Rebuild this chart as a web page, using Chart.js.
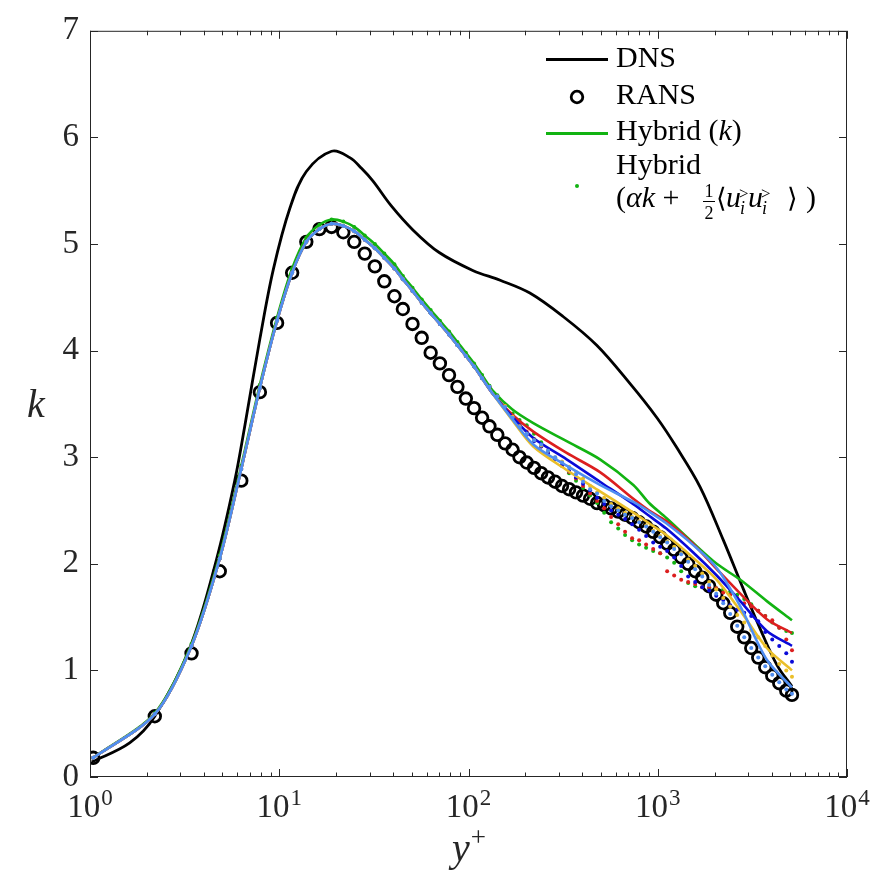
<!DOCTYPE html>
<html><head><meta charset="utf-8">
<script src="https://cdn.jsdelivr.net/npm/chart.js"></script>
<style>
html,body{margin:0;padding:0;background:#fff;}
#wrap{position:relative;width:889px;height:875px;background:#fff;}
#c{position:absolute;left:0;top:0;}
#leg{position:absolute;left:0;top:0;}
</style></head><body>
<div id="wrap">
<canvas id="c" width="889" height="875"></canvas>
<svg id="leg" width="889" height="875" xmlns="http://www.w3.org/2000/svg" font-family="Liberation Serif, DejaVu Serif, DejaVu Sans, serif" font-size="30" fill="#000">
<line x1="546" y1="59.5" x2="608" y2="59.5" stroke="#000" stroke-width="2.8"/>
<text x="616" y="67">DNS</text>
<circle cx="577" cy="97" r="5.8" fill="none" stroke="#000" stroke-width="2.8"/>
<text x="616" y="104">RANS</text>
<line x1="546" y1="133.5" x2="608" y2="133.5" stroke="#12b312" stroke-width="2.8"/>
<text x="616" y="140">Hybrid (<tspan font-style="italic">k</tspan>)</text>
<text x="616" y="173.5">Hybrid</text>
<circle cx="577" cy="186" r="2" fill="#12b312"/>
<text x="616" y="207">(<tspan font-style="italic">αk</tspan> +</text>
<text x="709" y="197" font-size="18" text-anchor="middle">1</text>
<line x1="703" y1="201.5" x2="715" y2="201.5" stroke="#000" stroke-width="1"/>
<text x="709" y="219" font-size="18" text-anchor="middle">2</text>
<text x="716" y="207" font-family="DejaVu Serif, DejaVu Sans, serif" font-size="27">⟨</text>
<text x="726" y="207" font-style="italic">u</text>
<text x="739" y="199" font-size="17">&gt;</text>
<text x="740" y="214" font-size="18" font-style="italic">i</text>
<text x="748" y="207" font-style="italic">u</text>
<text x="761" y="199" font-size="17">&gt;</text>
<text x="762" y="214" font-size="18" font-style="italic">i</text>
<text x="787" y="207" font-family="DejaVu Serif, DejaVu Sans, serif" font-size="27">⟩</text>
<text x="806" y="207">)</text>
</svg>
</div>
<script>
// ---------- data ----------
const yTickVals = [0, 1, 2, 3, 4, 5, 6, 7];
const xTickExps = [0, 1, 2, 3, 4];

const dnsYp = [1.02, 1.62, 2.2, 3.37, 4.66, 5.82, 6.6, 7.9, 9.3, 11.4, 13.9, 18.9, 23.6, 27.2, 31.3, 39, 51, 70, 106, 147, 211, 316, 476, 714, 990, 1260, 1675, 2224, 2838, 3478, 4266, 5117];
const dnsK  = [0.14, 0.32, 0.57, 1.21, 2.04, 2.78, 3.31, 4.11, 4.76, 5.34, 5.68, 5.87, 5.81, 5.71, 5.59, 5.36, 5.13, 4.92, 4.75, 4.66, 4.54, 4.32, 4.05, 3.69, 3.37, 3.09, 2.72, 2.22, 1.76, 1.39, 1.05, 0.85];

const nearGrid = [1.04, 2.2, 3.44, 4.85, 6.3, 7.9, 9.74, 11.7, 13.9, 16.3, 18.9, 21.8, 24.9, 28.3, 32, 35.9, 40.6, 45, 50.6, 56.6, 63.1, 70.6, 78.9, 87.4, 96.8, 107, 118];
const outerGrid = [129, 142, 156, 171, 186, 203, 222, 242, 263, 287, 312, 340, 370, 403, 439, 478, 521, 567, 618, 672, 732, 797, 868, 946, 1030, 1121, 1221, 1330, 1448, 1577, 1718, 1870, 2037, 2218, 2415, 2630, 2864, 3119, 3396, 3698, 4027, 4386, 4776, 5120];

const ransNearK  = [0.18, 0.57, 1.16, 1.93, 2.78, 3.61, 4.26, 4.73, 5.02, 5.14, 5.16, 5.11, 5.02, 4.91, 4.79, 4.65, 4.51, 4.39, 4.25, 4.12, 3.98, 3.88, 3.77, 3.66, 3.55, 3.46, 3.37];
const ransOuterK = [3.29, 3.21, 3.13, 3.07, 3.00, 2.95, 2.90, 2.85, 2.81, 2.77, 2.73, 2.70, 2.67, 2.64, 2.61, 2.57, 2.55, 2.52, 2.49, 2.46, 2.43, 2.39, 2.35, 2.30, 2.25, 2.19, 2.13, 2.06, 2.00, 1.93, 1.87, 1.79, 1.71, 1.63, 1.54, 1.41, 1.31, 1.21, 1.12, 1.03, 0.95, 0.88, 0.81, 0.77];

const hybNearK   = [0.18, 0.59, 1.23, 2.05, 2.89, 3.65, 4.28, 4.73, 5.02, 5.14, 5.19, 5.17, 5.12, 5.04, 4.96, 4.87, 4.77, 4.67, 4.56, 4.45, 4.35, 4.25, 4.15, 4.05, 3.95, 3.85, 3.74];
const greenNearK = [0.18, 0.60, 1.25, 2.08, 2.92, 3.68, 4.31, 4.77, 5.06, 5.18, 5.23, 5.21, 5.16, 5.08, 5.00, 4.91, 4.81, 4.70, 4.59, 4.48, 4.38, 4.28, 4.18, 4.08, 3.98, 3.88, 3.77];

const lineOuterX  = [135, 170, 220, 330, 495, 743, 900, 1110, 1530, 2050, 2730, 3770, 5120];
const greenLineK  = [3.62, 3.45, 3.32, 3.15, 2.98, 2.74, 2.57, 2.43, 2.20, 2.00, 1.85, 1.65, 1.47];
const redLineK    = [3.59, 3.40, 3.24, 3.04, 2.86, 2.61, 2.50, 2.40, 2.19, 1.95, 1.72, 1.48, 1.35];
const blueLineK   = [3.59, 3.38, 3.18, 2.98, 2.77, 2.56, 2.45, 2.33, 2.11, 1.89, 1.65, 1.37, 1.23];
const yellowLineK = [3.59, 3.35, 3.10, 2.88, 2.68, 2.48, 2.38, 2.27, 2.06, 1.85, 1.56, 1.21, 1.00];
const lblueLineK  = [3.59, 3.36, 3.12, 2.92, 2.74, 2.58, 2.49, 2.38, 2.18, 1.96, 1.60, 1.10, 0.84];

const greenDotK  = [3.67, 3.58, 3.49, 3.41, 3.35, 3.30, 3.22, 3.14, 3.06, 2.99, 2.92, 2.85, 2.78, 2.71, 2.64, 2.57, 2.48, 2.39, 2.33, 2.27, 2.22, 2.18, 2.15, 2.12, 2.10, 2.06, 2.01, 1.93, 1.82, 1.79, 1.78, 1.77, 1.77, 1.76, 1.74, 1.71, 1.67, 1.62, 1.56, 1.51, 1.45, 1.40, 1.37, 1.35];
const redDotK    = [3.66, 3.57, 3.48, 3.39, 3.31, 3.24, 3.17, 3.10, 3.04, 2.98, 2.92, 2.86, 2.80, 2.73, 2.66, 2.59, 2.52, 2.44, 2.37, 2.30, 2.24, 2.22, 2.18, 2.14, 2.10, 1.93, 1.89, 1.85, 1.83, 1.81, 1.78, 1.78, 1.77, 1.73, 1.71, 1.68, 1.63, 1.60, 1.56, 1.51, 1.47, 1.40, 1.29, 1.19];
const blueDotK   = [3.66, 3.57, 3.47, 3.37, 3.28, 3.21, 3.15, 3.10, 3.04, 2.98, 2.93, 2.87, 2.81, 2.75, 2.69, 2.62, 2.56, 2.50, 2.46, 2.42, 2.37, 2.32, 2.26, 2.20, 2.16, 2.12, 2.06, 1.98, 1.88, 1.83, 1.78, 1.75, 1.70, 1.66, 1.61, 1.57, 1.54, 1.51, 1.46, 1.36, 1.29, 1.23, 1.16, 1.08];
const yellowDotK = [3.66, 3.57, 3.48, 3.38, 3.29, 3.22, 3.16, 3.11, 3.06, 3.00, 2.96, 2.91, 2.86, 2.80, 2.73, 2.67, 2.62, 2.56, 2.52, 2.48, 2.44, 2.40, 2.36, 2.31, 2.26, 2.21, 2.16, 2.10, 2.04, 1.98, 1.91, 1.83, 1.76, 1.68, 1.60, 1.52, 1.45, 1.38, 1.31, 1.23, 1.14, 1.06, 1.00, 0.94];
const lblueDotK  = [3.66, 3.57, 3.47, 3.37, 3.28, 3.22, 3.16, 3.12, 3.06, 3.00, 2.95, 2.90, 2.84, 2.77, 2.70, 2.66, 2.59, 2.54, 2.50, 2.46, 2.43, 2.39, 2.35, 2.30, 2.25, 2.20, 2.14, 2.09, 2.02, 1.95, 1.88, 1.80, 1.72, 1.63, 1.53, 1.42, 1.31, 1.21, 1.12, 1.04, 0.96, 0.89, 0.82, 0.78];

// ---------- build datasets ----------
const pts = (xs, ys) => xs.map((x, i) => ({x: x, y: ys[i]}));
const AX = '#262626';
const FONT = 'Liberation Serif';

const cases = [
  {c: '#12b312', near: greenNearK, line: greenLineK,  dots: greenDotK},
  {c: '#dc1f1f', near: hybNearK,   line: redLineK,    dots: redDotK},
  {c: '#0a0ad8', near: hybNearK,   line: blueLineK,   dots: blueDotK},
  {c: '#eabf2a', near: hybNearK,   line: yellowLineK, dots: yellowDotK},
  {c: '#4f8ef2', near: hybNearK,   line: lblueLineK,  dots: lblueDotK}
];

const datasets = [];
datasets.push({label: 'DNS', data: pts(dnsYp, dnsK), showLine: true, borderColor: '#000', borderWidth: 2.8,
  pointRadius: 0, tension: 0.35, fill: false});
datasets.push({label: 'RANS', data: pts(nearGrid.concat(outerGrid), ransNearK.concat(ransOuterK)), showLine: false,
  pointRadius: 5.8, pointBorderWidth: 2.8, pointBorderColor: '#000', pointBackgroundColor: 'rgba(0,0,0,0)', borderColor: '#000'});
cases.forEach(cs => {
  datasets.push({label: 'Hybrid (k)', data: pts(nearGrid.concat(lineOuterX), cs.near.concat(cs.line)), showLine: true,
    borderColor: cs.c, borderWidth: 2.6, pointRadius: 0, tension: 0.3, fill: false});
  datasets.push({label: 'Hybrid dots', data: pts(nearGrid.concat(outerGrid), cs.near.concat(cs.dots)), showLine: false,
    pointRadius: 2, pointBorderWidth: 0, pointBackgroundColor: cs.c, borderColor: cs.c});
});
// later datasets drawn on top
datasets.forEach((d, i) => { d.order = 100 - i; });

const framePlugin = {
  id: 'frame',
  afterDatasetsDraw(chart) {
    const ctx = chart.ctx;
    const {left, right, top, bottom} = chart.chartArea;
    const xs = chart.scales.x, ys = chart.scales.y;
    ctx.save();
    ctx.strokeStyle = AX;
    ctx.lineWidth = 1;
    ctx.strokeRect(left + 0.5, top + 0.5, right - left - 1, bottom - top - 1);
    ctx.beginPath();
    yTickVals.forEach(v => {
      const py = Math.round(ys.getPixelForValue(v)) + 0.5;
      ctx.moveTo(left, py); ctx.lineTo(left + 8, py);
      ctx.moveTo(right, py); ctx.lineTo(right - 8, py);
    });
    for (let d = xTickExps[0]; d <= xTickExps[xTickExps.length - 1]; d++) {
      for (let m = 1; m <= 9; m++) {
        if (d === xTickExps[xTickExps.length - 1] && m > 1) break;
        const px = Math.round(xs.getPixelForValue(m * Math.pow(10, d))) + 0.5;
        const len = m === 1 ? 8 : 4.5;
        ctx.moveTo(px, bottom); ctx.lineTo(px, bottom - len);
        ctx.moveTo(px, top); ctx.lineTo(px, top + len);
      }
    }
    ctx.stroke();
    // x tick labels 10^n
    ctx.fillStyle = AX;
    ctx.textBaseline = 'alphabetic';
    ctx.textAlign = 'left';
    xTickExps.forEach(e => {
      const px = xs.getPixelForValue(Math.pow(10, e));
      ctx.font = '33px "' + FONT + '"';
      const wb = ctx.measureText('10').width;
      ctx.font = '23px "' + FONT + '"';
      const we = ctx.measureText(String(e)).width;
      const x0 = px - (wb + we + 1) / 2;
      ctx.font = '33px "' + FONT + '"';
      ctx.fillText('10', x0, bottom + 40);
      ctx.font = '23px "' + FONT + '"';
      ctx.fillText(String(e), x0 + wb + 1, bottom + 28);
    });
    // axis titles
    const cx = (left + right) / 2;
    ctx.font = 'italic 40px "' + FONT + '"';
    const wy = ctx.measureText('y').width;
    ctx.font = '27px "' + FONT + '"';
    const wp = ctx.measureText('+').width;
    const sx = cx - (wy + wp) / 2;
    ctx.font = 'italic 40px "' + FONT + '"';
    ctx.fillText('y', sx, bottom + 84);
    ctx.font = '27px "' + FONT + '"';
    ctx.fillText('+', sx + wy + 1, bottom + 69);
    ctx.font = 'italic 40px "' + FONT + '"';
    ctx.textAlign = 'center';
    ctx.fillText('k', 36, (top + bottom) / 2 + 13);
    ctx.restore();
  }
};

new Chart(document.getElementById('c').getContext('2d'), {
  type: 'scatter',
  data: {datasets: datasets},
  options: {
    responsive: false,
    animation: false,
    devicePixelRatio: 1,
    layout: {padding: {left: 0, right: 42, top: 21, bottom: 0}},
    plugins: {legend: {display: false}, tooltip: {enabled: false}},
    scales: {
      x: {type: 'logarithmic', min: 1, max: 10000,
          grid: {display: false, drawTicks: false}, border: {display: false},
          ticks: {display: false},
          afterFit(s) { s.height = 98; }},
      y: {type: 'linear', min: 0, max: 7,
          grid: {display: false, drawTicks: false}, border: {display: false},
          afterBuildTicks(s) { s.ticks = yTickVals.map(v => ({value: v})); },
          ticks: {padding: 11, color: AX, font: {family: FONT, size: 33}, callback: v => String(v)},
          afterFit(s) { s.width = 90; }}
    }
  },
  plugins: [framePlugin]
});
</script>
</body></html>
